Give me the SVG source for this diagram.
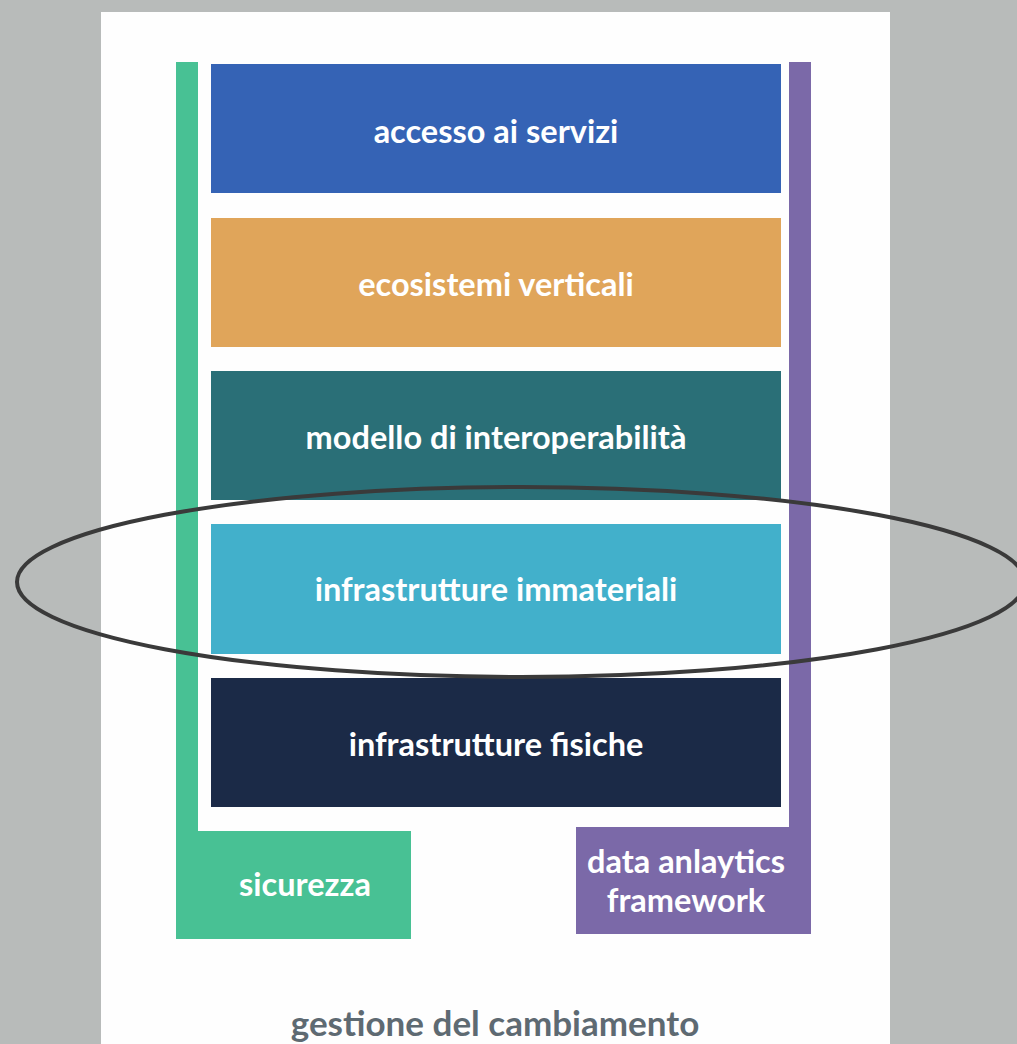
<svg xmlns="http://www.w3.org/2000/svg" width="1017" height="1044" viewBox="0 0 1017 1044">
<style>
.lbl{font-family:Lato,"Open Sans","Liberation Sans",sans-serif;font-weight:bold;font-size:32.5px;fill:#ffffff;text-anchor:middle}
.foot{font-family:Lato,"Open Sans","Liberation Sans",sans-serif;font-weight:bold;font-size:35px;fill:#5e6a72;text-anchor:middle}
</style>
<rect x="0" y="0" width="1017" height="1044" fill="#b8bbba"/>
<rect x="101" y="12" width="789" height="1040" fill="#fefefe"/>
<g id="sicurezza">
<path d="M176 62 H198 V831 H411 V939 H176 Z" fill="#48c194"/>
<text class="lbl" x="305" y="896">sicurezza</text>
</g>
<g id="data-analytics">
<path d="M789 62 H811 V934 H576 V827 H789 Z" fill="#7b69a8"/>
<text class="lbl" x="686" y="873">data anlaytics</text>
<text class="lbl" x="686" y="912">framework</text>
</g>
<g id="accesso">
<rect x="211" y="64" width="570" height="129" fill="#3563b5"/>
<text class="lbl" x="496" y="143">accesso ai servizi</text>
</g>
<g id="ecosistemi">
<rect x="211" y="218" width="570" height="129" fill="#e0a55a"/>
<text class="lbl" x="496" y="296">ecosistemi verticali</text>
</g>
<g id="modello">
<rect x="211" y="371" width="570" height="129" fill="#2a6f77"/>
<text class="lbl" x="496" y="449">modello di interoperabilità</text>
</g>
<g id="immateriali">
<rect x="211" y="524" width="570" height="130" fill="#42b0cb"/>
<text class="lbl" x="496" y="601">infrastrutture immateriali</text>
</g>
<g id="fisiche">
<rect x="211" y="678" width="570" height="129" fill="#1b2a47"/>
<text class="lbl" x="496" y="756">infrastrutture fisiche</text>
</g>
<g id="connectors">
<ellipse cx="521" cy="582" rx="504" ry="95" fill="none" stroke="#3a3a3a" stroke-width="4"/>
</g>
<text class="foot" x="495" y="1036">gestione del cambiamento</text>
</svg>
